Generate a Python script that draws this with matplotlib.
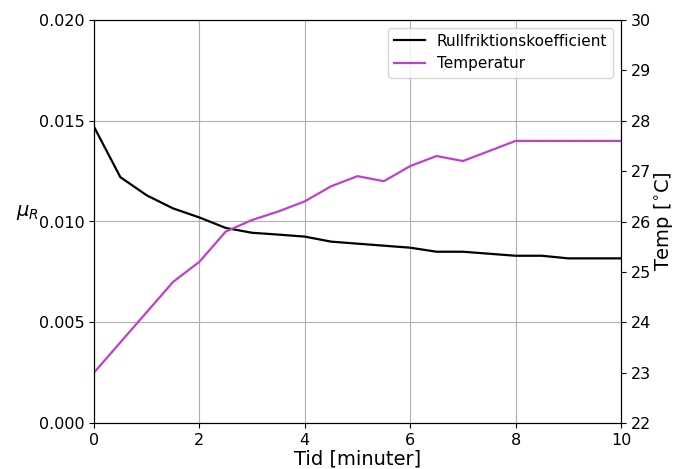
import matplotlib
matplotlib.use('Agg')
import matplotlib.pyplot as plt

# tid i minuter
tid = [0, 0.5, 1, 1.5, 2, 2.5, 3, 3.5, 4, 4.5, 5, 5.5, 6, 6.5, 7, 7.5, 8, 8.5, 9, 9.5, 10]
mu_r = [0.0147, 0.0122, 0.0113, 0.01065, 0.0102, 0.00968, 0.00944, 0.00935, 0.00925, 0.0090,
        0.0089, 0.0088, 0.0087, 0.0085, 0.0085, 0.0084, 0.0083, 0.0083, 0.00817, 0.00817, 0.00817]
temp = [23.0, 23.6, 24.2, 24.8, 25.2, 25.8, 26.03, 26.2, 26.4, 26.7,
        26.9, 26.8, 27.1, 27.3, 27.2, 27.4, 27.6, 27.6, 27.6, 27.6, 27.6]

fig = plt.figure(figsize=(6.75, 4.69), dpi=100)
ax1 = fig.add_axes([94/675, 1 - 423/469, (621-94)/675, (423-20)/469])
l1, = ax1.plot(tid, mu_r, color='black', linewidth=1.6, label='Rullfriktionskoefficient')
ax1.set_xlim(0, 10)
ax1.set_ylim(0, 0.020)
ax1.set_yticks([0, 0.005, 0.010, 0.015, 0.020])
ax1.set_xticks([0, 2, 4, 6, 8, 10])
ax1.tick_params(labelsize=11.5)
ax1.grid(True, color='#b0b0b0', linewidth=0.8)
ax1.set_xlabel('Tid [minuter]', fontsize=14, labelpad=1)
ax1.set_ylabel(r'$\mu_R$', fontsize=14, rotation=0, labelpad=8)

ax2 = ax1.twinx()
l2, = ax2.plot(tid, temp, color='#c03fcc', linewidth=1.6, label='Temperatur')
ax2.set_ylim(22, 30)
ax2.tick_params(labelsize=11.5)
ax2.set_ylabel('Temp [$^{\\circ}$C]', fontsize=14, labelpad=1)

ax1.legend(handles=[l1, l2], loc='upper right', fontsize=11)

fig.savefig('out.png', dpi=100)
